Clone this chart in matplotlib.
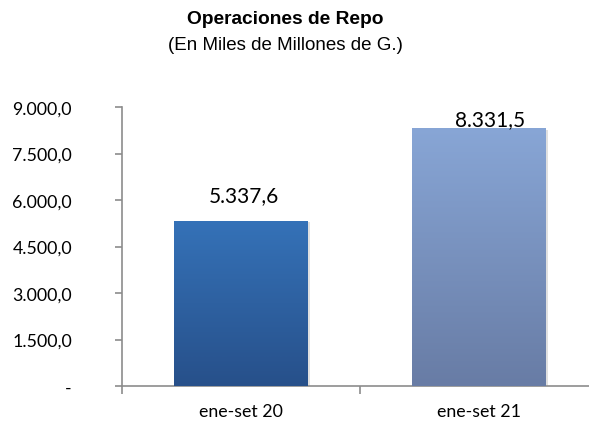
import numpy as np
from matplotlib import pyplot as plt
from matplotlib.colors import LinearSegmentedColormap

categorias = ["ene-set 20", "ene-set 21"]
valores = [5337.6, 8331.5]
etiquetas = ["5.337,6", "8.331,5"]
y_ticks = [0, 1500, 3000, 4500, 6000, 7500, 9000]
y_labels = ["-", "1.500,0", "3.000,0", "4.500,0", "6.000,0", "7.500,0", "9.000,0"]
colores = [("#3572b8", "#27508a"), ("#88a6d6", "#687ca5")]

fig = plt.figure(figsize=(5.89, 4.31), dpi=100)
ax = fig.add_axes([122 / 589, 44 / 431, 476 / 589, 279 / 431])

x = np.arange(len(categorias))
ancho = 0.56
bars = ax.bar(x, valores, width=ancho, color="none", zorder=2)

# degradado vertical dentro de cada barra
grad = np.linspace(1, 0, 256).reshape(-1, 1)
for b, (top, bottom) in zip(bars, colores):
    cmap = LinearSegmentedColormap.from_list("g", [bottom, top])
    x0, y0 = b.get_x(), b.get_y()
    w, h = b.get_width(), b.get_height()
    # sombra suave
    ax.bar(x0 + w / 2 + 0.012, h, width=w, bottom=-60, color="#000000", alpha=0.12, zorder=1)
    im = ax.imshow(grad[::-1], cmap=cmap, extent=[x0, x0 + w, y0, y0 + h],
                   aspect="auto", origin="lower", zorder=3)
    im.set_clip_path(b)

ax.set_xlim(-0.5, 1.5)
ax.set_ylim(0, 9000)

offsets = [(3, 25), (11, 9)]
for xi, v, t, off in zip(x, valores, etiquetas, offsets):
    ax.annotate(t, (xi, v), xytext=off, textcoords="offset pixels",
                ha="center", va="center", fontsize=15, family="Lato", color="#000000")

gris = "#8c8c8c"
for s in ["top", "right"]:
    ax.spines[s].set_visible(False)
ax.spines["left"].set_color(gris)
ax.spines["bottom"].set_color(gris)
ax.spines["left"].set_linewidth(1.2)
ax.spines["bottom"].set_linewidth(1.2)

ax.set_yticks(y_ticks)
ax.set_yticklabels(y_labels, family="Lato", fontsize=12.8)
ax.tick_params(axis="y", direction="out", length=5, color=gris, width=1.2, pad=31)

ax.set_xticks([-0.5, 0.5, 1.5])
ax.set_xticklabels([])
ax.set_xticks(x, minor=True)
ax.set_xticklabels(categorias, minor=True, family="Lato", fontsize=12.8)
ax.tick_params(axis="x", which="minor", length=0, pad=12)
ax.tick_params(axis="x", which="major", direction="out", length=6, color=gris, width=1.2)

fig.text(285 / 589, 1 - 20 / 431, "Operaciones de Repo", ha="center", va="center",
         fontsize=13.8, fontweight="bold", family="Liberation Sans")
fig.text(285 / 589, 1 - 45 / 431, "(En Miles de Millones de G.)", ha="center", va="center",
         fontsize=13.5, family="Liberation Sans")

fig.savefig("out.png", dpi=100)
plt.close(fig)
